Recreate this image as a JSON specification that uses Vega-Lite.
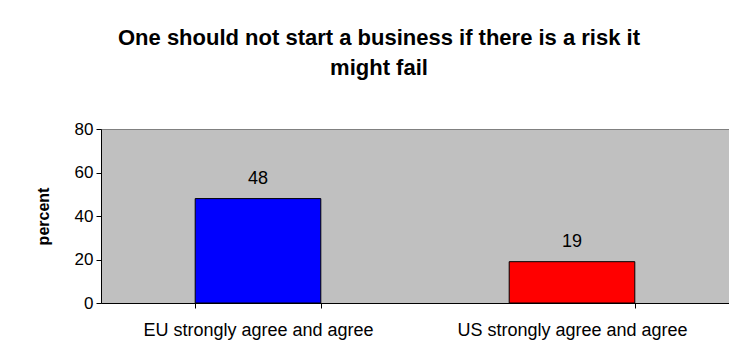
{
  "$schema": "https://vega.github.io/schema/vega-lite/v6.json",
  "autosize": {"type": "none"},
  "width": 628,
  "height": 174,
  "padding": {"left": 101, "top": 129, "right": 0, "bottom": 55},
  "background": "white",
  "title": {
    "text": ["One should not start a business if there is a risk it", "might fail"],
    "font": "Liberation Sans",
    "fontSize": 22,
    "fontWeight": "bold",
    "color": "black",
    "lineHeight": 30,
    "baseline": "alphabetic",
    "anchor": "middle",
    "dx": -36,
    "offset": 23
  },
  "config": {
    "view": {"fill": "#C0C0C0", "stroke": "#808080", "strokeWidth": 1},
    "font": "Liberation Sans"
  },
  "data": {
    "values": [
      {"group": "EU strongly agree and agree", "percent": 48},
      {"group": "US strongly agree and agree", "percent": 19}
    ]
  },
  "encoding": {
    "x": {
      "field": "group",
      "type": "nominal",
      "sort": null,
      "scale": {"paddingInner": 0.6, "paddingOuter": 0.3},
      "axis": {
        "title": null,
        "labelAngle": 0,
        "labelLimit": 0,
        "labelFont": "Liberation Sans",
        "labelFontSize": 18,
        "labelColor": "black",
        "labelPadding": 13,
        "tickBand": "extent",
        "tickColor": "black",
        "tickSize": 5,
        "domainColor": "black",
        "grid": false
      }
    },
    "y": {
      "field": "percent",
      "type": "quantitative",
      "scale": {"domain": [0, 80]},
      "axis": {
        "title": "percent",
        "titleFont": "Liberation Sans",
        "titleFontSize": 16,
        "titleFontWeight": "bold",
        "titleColor": "black",
        "titlePadding": 23,
        "values": [0, 20, 40, 60, 80],
        "labelFont": "Liberation Sans",
        "labelFontSize": 17,
        "labelColor": "black",
        "labelPadding": 3,
        "tickColor": "black",
        "tickSize": 5,
        "domainColor": "black",
        "grid": false
      }
    }
  },
  "layer": [
    {
      "mark": {"type": "bar", "stroke": "black", "strokeWidth": 1},
      "encoding": {
        "color": {
          "field": "group",
          "type": "nominal",
          "scale": {"range": ["#0000FF", "#FF0000"]},
          "legend": null
        }
      }
    },
    {
      "mark": {"type": "text", "baseline": "alphabetic", "dy": -15, "fontSize": 18, "font": "Liberation Sans", "color": "black"},
      "encoding": {"text": {"field": "percent", "type": "quantitative"}}
    }
  ]
}
